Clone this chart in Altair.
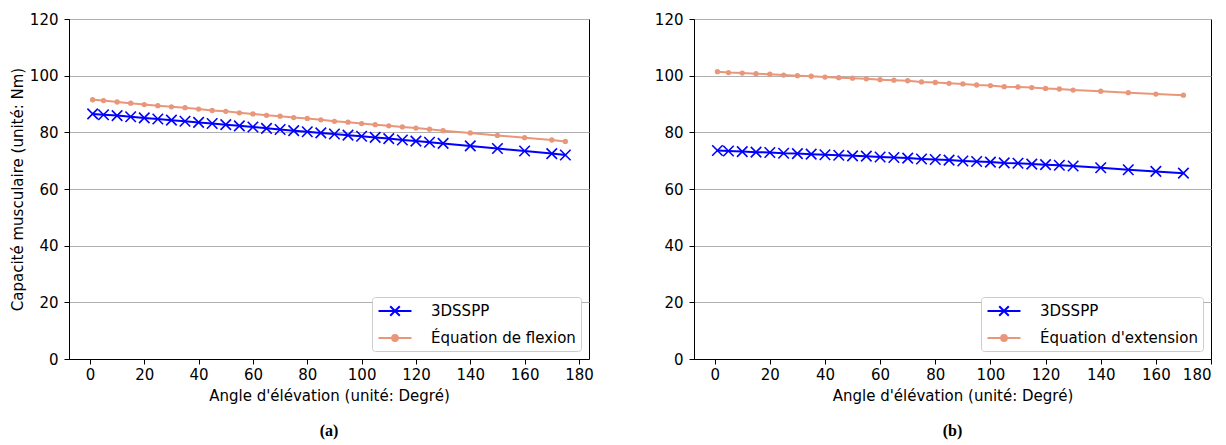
import altair as alt
import pandas as pd

FONT = "DejaVu Sans"
BLUE = "#0000ff"
SALMON = "#e9967a"

# ---- data ----
angles_a = [1, 5, 10, 15, 20, 25, 30, 35, 40, 45, 50, 55, 60, 65, 70, 75, 80, 85, 90,
            95, 100, 105, 110, 115, 120, 125, 130, 140, 150, 160, 170, 175]
sspp_a = [86.5, 86.2, 85.9, 85.5, 85.1, 84.7, 84.3, 83.9, 83.5, 83.1, 82.7, 82.3, 81.9,
          81.4, 81.0, 80.6, 80.2, 79.8, 79.4, 79.0, 78.6, 78.2, 77.8, 77.3, 76.9, 76.5,
          76.1, 75.2, 74.3, 73.4, 72.5, 72.0]
flexion_a = [91.5, 91.2, 90.7, 90.3, 89.8, 89.4, 89.0, 88.7, 88.2, 87.7, 87.4, 86.9, 86.5,
             86.0, 85.7, 85.2, 84.9, 84.4, 83.9, 83.6, 83.1, 82.7, 82.3, 81.9, 81.5, 81.1,
             80.6, 79.8, 78.9, 78.1, 77.3, 76.8]

angles_b = [1, 5, 10, 15, 20, 25, 30, 35, 40, 45, 50, 55, 60, 65, 70, 75, 80, 85, 90,
            95, 100, 105, 110, 115, 120, 125, 130, 140, 150, 160, 170]
sspp_b = [73.6, 73.4, 73.2, 73.0, 72.9, 72.6, 72.5, 72.3, 72.1, 71.9, 71.7, 71.6, 71.3,
          71.1, 70.9, 70.6, 70.4, 70.2, 69.9, 69.7, 69.5, 69.2, 69.1, 68.8, 68.6, 68.4,
          68.1, 67.5, 66.8, 66.2, 65.6]
extension_b = [101.4, 101.1, 100.9, 100.7, 100.5, 100.2, 100.0, 99.8, 99.5, 99.3, 99.1,
               98.9, 98.6, 98.4, 98.2, 97.8, 97.6, 97.3, 97.1, 96.7, 96.5, 96.1, 96.0,
               95.8, 95.5, 95.3, 94.9, 94.5, 94.0, 93.5, 93.1]

x_ticks = [0, 20, 40, 60, 80, 100, 120, 140, 160, 180]
y_ticks = [0, 20, 40, 60, 80, 100, 120]

X_TITLE = "Angle d'élévation (unité: Degré)"
Y_TITLE = "Capacité musculaire (unité: Nm)"

# legend symbols: line + marker (custom paths)
CROSS_SYM = "M-2.06,0H2.06M-0.6,-0.6L0.6,0.6M-0.6,0.6L0.6,-0.6"
DOT_SYM = ("M-2.06,0H2.06M-0.36,0A0.36,0.36,0,1,1,0.36,0"
           "A0.36,0.36,0,1,1,-0.36,0Z")


def panel(angles, s1, s2, name1, name2, xdom, label, with_ytitle, width):
    df = pd.DataFrame({
        "angle": angles * 2,
        "v": s1 + s2,
        "serie": [name1] * len(angles) + [name2] * len(angles),
    })
    domain = [name1, name2]
    base = alt.Chart(df)
    x = alt.X("angle:Q", scale=alt.Scale(domain=xdom, nice=False, zero=False),
              axis=alt.Axis(values=x_ticks, title=X_TITLE, grid=False, format="d"))
    y = alt.Y("v:Q", scale=alt.Scale(domain=[0, 120], nice=False),
              axis=alt.Axis(values=y_ticks, title=Y_TITLE if with_ytitle else None,
                            grid=True, format="d"))
    s1_base = base.transform_filter(alt.datum.serie == name1)
    s2_base = base.transform_filter(alt.datum.serie == name2)
    line1 = s1_base.mark_line(strokeWidth=2, color=BLUE).encode(x=x, y=y)
    line2 = s2_base.mark_line(strokeWidth=2, color=SALMON).encode(x=x, y=y)
    crosses = s1_base.mark_point(
        shape="M-1,-1L1,1M-1,1L1,-1", size=110, filled=False, strokeWidth=1.6,
        color=BLUE, opacity=1).encode(x=x, y=y)
    dots = s2_base.mark_circle(size=28, color=SALMON, opacity=1).encode(x=x, y=y)
    leg = alt.Legend(title=None, orient="bottom-right", offset=8, symbolOpacity=1)
    legend_layer = base.mark_point(
        filled=False, strokeWidth=2, opacity=0).encode(
        x=x, y=y,
        stroke=alt.Stroke("serie:N", scale=alt.Scale(domain=domain, range=[BLUE, SALMON]),
                          legend=leg),
        fill=alt.Fill("serie:N", scale=alt.Scale(domain=domain, range=[BLUE, SALMON]),
                      legend=leg),
        shape=alt.Shape("serie:N", scale=alt.Scale(domain=domain, range=[CROSS_SYM, DOT_SYM]),
                        legend=leg),
    )
    return alt.layer(line2, line1, dots, crosses, legend_layer).properties(
        width=width, height=340,
        title=alt.TitleParams(label, orient="bottom", font="Liberation Serif",
                              fontSize=16, fontWeight="bold", color="black",
                              offset=20),
    )


pa = panel(angles_a, sspp_a, flexion_a, "3DSSPP", "Équation de flexion",
           [-7.7, 183.7], "(a)", True, 520)
pb = panel(angles_b, sspp_b, extension_b, "3DSSPP", "Équation d'extension",
           [-7.5, 180], "(b)", False, 517)

chart = alt.hconcat(pa, pb, spacing=59).resolve_scale(
    x="independent", y="independent",
    stroke="independent", fill="independent", shape="independent"
).properties(
    padding={"left": 1, "top": 3, "right": 0, "bottom": 0}
).configure_view(
    stroke="black", strokeWidth=1
).configure_axis(
    labelFont=FONT, titleFont=FONT, labelFontSize=15, titleFontSize=15,
    titleFontWeight="normal", labelColor="black", titleColor="black",
    domainColor="black", tickColor="black", tickSize=5, domainWidth=1,
    tickWidth=1, gridColor="#b0b0b0", gridWidth=1,
).configure_axisY(titlePadding=4, labelPadding=6).configure_axisX(
    titlePadding=6, labelPadding=3
).configure_legend(
    labelFont=FONT, labelFontSize=15, labelColor="black",
    fillColor="white", strokeColor="#cccccc", cornerRadius=3, padding=5,
    symbolSize=256, symbolStrokeWidth=2, symbolOffset=9, labelOffset=27,
    rowPadding=9,
)

chart.save("out.html", embed_options={"renderer": "svg", "actions": False})
